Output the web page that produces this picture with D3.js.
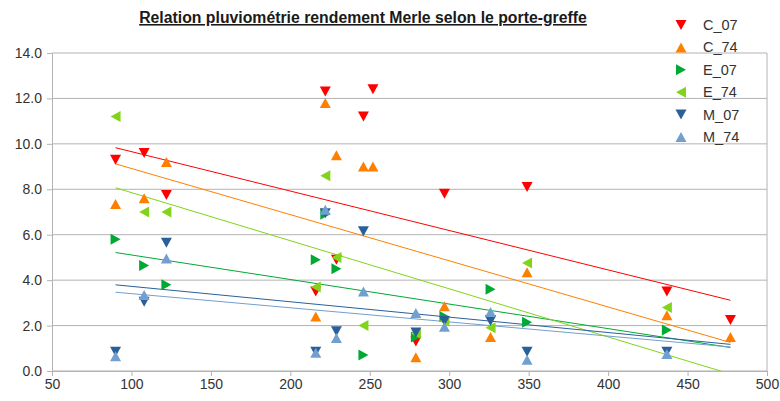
<!DOCTYPE html>
<html>
<head>
<meta charset="utf-8">
<script src="https://cdn.jsdelivr.net/npm/d3@7"></script>
<style>
    body { margin: 0; background: white; }
    text { font-family: "Liberation Sans", Arial, sans-serif; }
</style>
</head>
<body>
<svg></svg>
<script>
// Pluviometry (mm) shared by all series
const pluvio = [90, 108, 122, 216, 222, 229, 246, 252, 279, 297, 326, 349, 437, 477]

// Yield per series (null = no value)
const c07 = [9.3, 9.6, 7.75, 3.5, 12.3, 4.9, 11.2, 12.4, 1.3, 7.8, 2.25, 8.1, 3.5, 2.25]
const c74 = [7.35, 7.6, 9.2, 2.4, 11.8, 9.5, 9.0, 9.0, 0.6, 2.85, 1.5, 4.35, 2.45, 1.5]
const e07 = [5.8, 4.65, 3.8, 4.9, 6.9, 4.5, 0.7, null, 1.5, 2.4, 3.6, 2.15, 1.8, null]
const e74 = [11.2, 7.0, 7.0, 3.7, 8.6, 5.0, 2.0, null, 1.65, 2.2, 1.9, 4.75, 2.8, null]
const m07 = [0.85, 3.05, 5.65, 0.85, 6.95, 1.75, 6.15, null, 1.7, 2.2, 2.2, 0.85, 0.85, null]
const m74 = [0.65, 3.35, 4.95, 0.8, 7.1, 1.45, 3.5, null, 2.55, 1.95, 2.6, 0.5, 0.75, null]

const seriesNames = ['C_07', 'C_74', 'E_07', 'E_74', 'M_07', 'M_74']
const seriesValues = [c07, c74, e07, e74, m07, m74]
const seriesColors = ['#ff0000', '#ff8000', '#00a933', '#81d41a', '#2a6099', '#729fcf']
const seriesShapes = ['down', 'up', 'right', 'left', 'down', 'up']

const xTicks = [50, 100, 150, 200, 250, 300, 350, 400, 450, 500]
const yTicks = [0, 2, 4, 6, 8, 10, 12, 14]

const title = 'Relation pluviométrie rendement Merle selon le porte-greffe'

// Canvas setup
let width = 780
let height = 401
let svg = d3.select('svg')
    .attr('width', width)
    .attr('height', height)

let plotLeft = 52
let plotRight = 767
let plotTop = 53
let plotBottom = 371

let xScale = d3.scaleLinear().domain([50, 500]).range([plotLeft, plotRight])
let yScale = d3.scaleLinear().domain([0, 14]).range([plotBottom, plotTop])

// Grid lines
svg.append('g')
    .selectAll('line')
    .data(yTicks)
    .enter()
    .append('line')
    .attr('x1', plotLeft)
    .attr('x2', plotRight)
    .attr('y1', (d) => yScale(d))
    .attr('y2', (d) => yScale(d))
    .attr('stroke', '#b3b3b3')

// Axes
let xAxis = d3.axisBottom(xScale)
    .tickValues(xTicks)
    .tickSize(5)
    .tickPadding(3)
    .tickFormat(d3.format('d'))
svg.append('g')
    .attr('transform', 'translate(0,' + plotBottom + ')')
    .call(xAxis)

let yAxis = d3.axisLeft(yScale)
    .tickValues(yTicks)
    .tickSize(5)
    .tickPadding(5)
    .tickFormat(d3.format('.1f'))
svg.append('g')
    .attr('transform', 'translate(' + plotLeft + ',0)')
    .call(yAxis)

svg.selectAll('.domain, .tick line').attr('stroke', '#b3b3b3')
svg.selectAll('.tick text')
    .attr('fill', '#333')
    .style('font-size', '14px')
    .style('font-family', '"Liberation Sans", Arial, sans-serif')

// right border of plot area
svg.append('line')
    .attr('x1', plotRight).attr('x2', plotRight)
    .attr('y1', plotTop).attr('y2', plotBottom)
    .attr('stroke', '#b3b3b3')

// Title
svg.append('text')
    .attr('x', 363)
    .attr('y', 23)
    .attr('text-anchor', 'middle')
    .style('font-size', '15.8px')
    .style('font-weight', 'bold')
    .style('text-decoration', 'underline')
    .attr('fill', '#1a1a1a')
    .text(title)

// Triangle marker paths
let triangle = (shape) => {
    let w = 11, h = 10
    if (shape == 'up') return 'M0,' + (-h / 2) + 'L' + (w / 2) + ',' + (h / 2) + 'L' + (-w / 2) + ',' + (h / 2) + 'Z'
    if (shape == 'down') return 'M0,' + (h / 2) + 'L' + (w / 2) + ',' + (-h / 2) + 'L' + (-w / 2) + ',' + (-h / 2) + 'Z'
    if (shape == 'right') return 'M' + (h / 2) + ',0L' + (-h / 2) + ',' + (-w / 2) + 'L' + (-h / 2) + ',' + (w / 2) + 'Z'
    return 'M' + (-h / 2) + ',0L' + (h / 2) + ',' + (-w / 2) + 'L' + (h / 2) + ',' + (w / 2) + 'Z'
}

// Linear trend lines (least squares), clipped to plot area
svg.append('clipPath')
    .attr('id', 'plot-clip')
    .append('rect')
    .attr('x', plotLeft).attr('y', plotTop)
    .attr('width', plotRight - plotLeft).attr('height', plotBottom - plotTop)

let xMin = d3.min(pluvio)
let xMax = d3.max(pluvio)
let trendGroup = svg.append('g').attr('clip-path', 'url(#plot-clip)')

seriesValues.forEach((vals, i) => {
    let pts = pluvio.map((x, j) => [x, vals[j]]).filter((p) => p[1] != null)
    let mx = d3.mean(pts, (p) => p[0])
    let my = d3.mean(pts, (p) => p[1])
    let sxy = d3.sum(pts, (p) => (p[0] - mx) * (p[1] - my))
    let sxx = d3.sum(pts, (p) => (p[0] - mx) * (p[0] - mx))
    let slope = sxy / sxx
    let fit = (x) => my + slope * (x - mx)
    trendGroup.append('path')
        .datum([xMin, xMax])
        .attr('d', d3.line().x((x) => xScale(x)).y((x) => yScale(fit(x))))
        .attr('fill', 'none')
        .attr('stroke', seriesColors[i])
        .attr('stroke-width', 1)
})

// Data points
seriesValues.forEach((vals, i) => {
    svg.append('g')
        .selectAll('path')
        .data(pluvio.map((x, j) => [x, vals[j]]).filter((p) => p[1] != null))
        .enter()
        .append('path')
        .attr('d', triangle(seriesShapes[i]))
        .attr('transform', (d) => 'translate(' + xScale(d[0]) + ',' + yScale(d[1]) + ')')
        .attr('fill', seriesColors[i])
})

// Legend
let legend = svg.append('g')
    .selectAll('g')
    .data(seriesNames)
    .enter()
    .append('g')
    .attr('transform', (d, i) => 'translate(681,' + (25 + i * 22.4) + ')')

legend.append('path')
    .attr('d', (d, i) => triangle(seriesShapes[i]))
    .attr('fill', (d, i) => seriesColors[i])

legend.append('text')
    .attr('x', 22)
    .attr('dy', '0.35em')
    .style('font-size', '14.5px')
    .attr('fill', '#333')
    .text((d) => d)
</script>
</body>
</html>
